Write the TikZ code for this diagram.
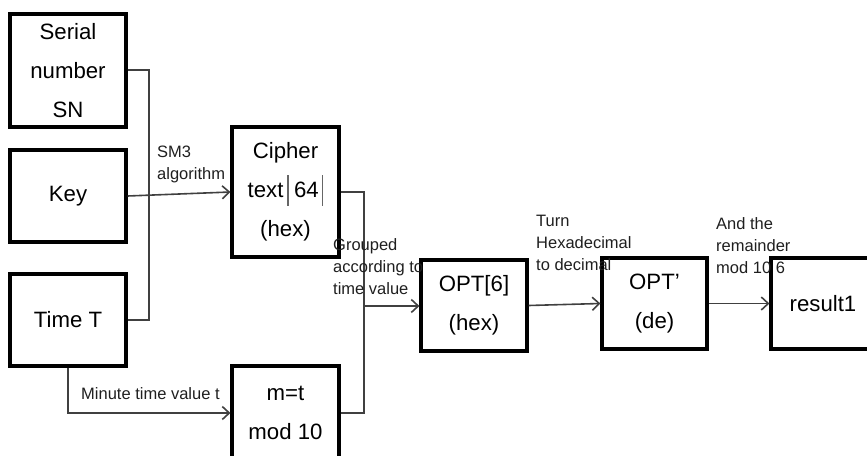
\documentclass[tikz,border=0pt]{standalone}
\usepackage{fontspec}
\setmainfont{Liberation Sans}
\usetikzlibrary{arrows.meta}
\newcommand{\tallbar}{\textcolor{black!60}{\rule[-8pt]{1.6pt}{31pt}}}
\begin{document}
\begin{tikzpicture}[x=1pt,y=-1pt,
  box/.style={draw=black,line width=3.1pt,inner sep=0pt,align=center,
    font=\fontsize{22.2}{39}\selectfont},
  conn/.style={draw=black!75,line width=1.6pt},
  arr/.style={conn,-{Straight Barb[length=7pt,width=13pt,line width=1.6pt]}},
  lbl/.style={inner sep=0pt,align=left,text=black!88,
    font=\fontsize{16.5}{22}\selectfont}]
\useasboundingbox (0,0) rectangle (867,455);
% boxes
\node[box,minimum width=116pt,minimum height=113pt] (sn) at (68,70.5) {Serial\\number\\SN};
\node[box,minimum width=116pt,minimum height=92pt] (key) at (68,196) {Key};
\node[box,minimum width=116pt,minimum height=92pt] (time) at (68,320) {Time T};
\node[box,minimum width=107pt,minimum height=130pt] (cipher) at (285.5,192) {Cipher\\text\hspace{4pt}\tallbar\hspace{5pt}64\hspace{3pt}\tallbar\\(hex)};
\node[box,minimum width=107pt,minimum height=94pt] (mod) at (285.5,413) {m=t\\mod 10};
\node[box,minimum width=106pt,minimum height=91pt] (opt6) at (474,305.5) {OPT[6]\\(hex)};
\node[box,minimum width=105pt,minimum height=91pt] (optp) at (654.5,303.5) {OPT’\\(de)};
\node[box,minimum width=104pt,minimum height=91pt] (res) at (823,303.5) {result1};
% connectors
\coordinate (a1) at (149,70);
\coordinate (a2) at (149,320);
\draw[conn] (sn.east |- a1) -- (a1) -- (a2) -- (time.east |- a2);
\draw[arr] (key.east) -- (cipher.west);
\coordinate (b1) at (364,192);
\coordinate (b2) at (364,413);
\coordinate (j) at (364,306);
\draw[conn] (cipher.east |- b1) -- (b1) -- (b2) -- (mod.east |- b2);
\draw[arr] (j) -- (opt6.west |- j);
\draw[arr] (time.south) |- (mod.west);
\draw[arr] (opt6.east) -- (optp.west);
\draw[arr] (optp.east) -- (res.west);
% labels
\node[lbl,anchor=north west] (l1) at (157,146) {SM3\\algorithm};
\node[lbl,anchor=base west] (l2) at (81,399) {Minute time value t};
\node[lbl,anchor=north west] (l3) at (333,238) {Grouped\\according to\\time value};
\node[lbl,anchor=north west] (l4) at (536,215) {Turn\\Hexadecimal\\to decimal};
\node[lbl,anchor=north west] (l5) at (716,217) {And the\\remainder\\mod 10 6};
\end{tikzpicture}
\end{document}
